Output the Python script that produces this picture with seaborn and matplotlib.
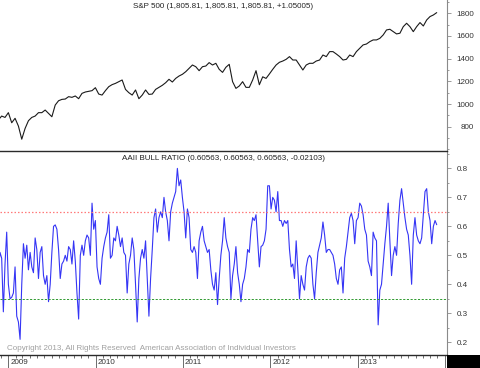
import pandas as pd
import matplotlib
matplotlib.use('Agg')
import matplotlib.pyplot as plt
import matplotlib.dates as mdates
import matplotlib.transforms as mtransforms
from matplotlib.ticker import MultipleLocator, FixedLocator, FormatStrFormatter
from matplotlib.patches import Rectangle
import seaborn as sns

# weekly AAII bull ratio (last reading 2013-11-28)
last_week = '2013-11-28'
bull_ratio = [
    0.385, 0.45, 0.51, 0.49, 0.305, 0.47, 0.58, 0.40, 0.35, 0.355,
    0.37, 0.46, 0.29, 0.27, 0.21, 0.40, 0.54, 0.49, 0.535, 0.45,
    0.51, 0.46, 0.44, 0.56, 0.52, 0.42, 0.51, 0.53, 0.43, 0.40,
    0.43, 0.34, 0.40, 0.51, 0.60, 0.605, 0.59, 0.52, 0.42, 0.47,
    0.48, 0.50, 0.48, 0.53, 0.52, 0.47, 0.55, 0.48, 0.37, 0.28,
    0.50, 0.535, 0.50,
    0.55, 0.57, 0.56, 0.50, 0.68, 0.59, 0.62, 0.46, 0.42, 0.40,
    0.49, 0.53, 0.56, 0.58, 0.64, 0.49, 0.50, 0.56, 0.55, 0.60,
    0.57, 0.53, 0.56, 0.51, 0.50, 0.37, 0.47, 0.50, 0.56, 0.52,
    0.40, 0.27, 0.42, 0.49, 0.52, 0.49, 0.55, 0.42, 0.29, 0.42,
    0.52, 0.63, 0.66, 0.58, 0.63, 0.65, 0.63, 0.70, 0.65, 0.62,
    0.55, 0.65, 0.68,
    0.70, 0.72, 0.80, 0.74, 0.76, 0.70, 0.65, 0.56, 0.66, 0.63,
    0.52, 0.51, 0.53, 0.51, 0.42, 0.55, 0.58, 0.60, 0.55, 0.53,
    0.51, 0.52, 0.45, 0.40, 0.38, 0.44, 0.33, 0.42, 0.50, 0.55,
    0.63, 0.56, 0.53, 0.51, 0.35, 0.43, 0.47, 0.53, 0.44, 0.40,
    0.34, 0.40, 0.42, 0.46, 0.52, 0.51, 0.59, 0.63, 0.62, 0.64,
    0.55, 0.46, 0.53,
    0.535, 0.55, 0.59, 0.74, 0.74, 0.66, 0.70, 0.69, 0.65, 0.72,
    0.62, 0.62, 0.60, 0.62, 0.61, 0.62, 0.52, 0.46, 0.47, 0.42,
    0.55, 0.45, 0.35, 0.43, 0.40, 0.38, 0.46, 0.49, 0.50, 0.49,
    0.40, 0.35, 0.44, 0.51, 0.535, 0.56, 0.615, 0.57, 0.51, 0.52,
    0.52, 0.51, 0.50, 0.47, 0.42, 0.40, 0.45, 0.46, 0.37, 0.49,
    0.53, 0.58, 0.63,
    0.645, 0.62, 0.54, 0.62, 0.63, 0.68, 0.67, 0.64, 0.59, 0.57,
    0.48, 0.46, 0.43, 0.58, 0.56, 0.55, 0.26, 0.38, 0.40, 0.47,
    0.54, 0.60, 0.68, 0.55, 0.43, 0.50, 0.53, 0.50, 0.61, 0.69,
    0.73, 0.68, 0.63, 0.59, 0.57, 0.50, 0.40, 0.57, 0.63, 0.57,
    0.55, 0.54, 0.56, 0.64, 0.72, 0.73, 0.65, 0.62, 0.54, 0.60,
    0.62, 0.60563,
]

# S&P 500, every second week, same end date
spx_close = [
    860, 894, 882, 924, 835, 874, 806, 690, 785, 853,
    882, 894, 924, 924, 947, 918, 888, 991, 1029, 1041,
    1044, 1065, 1059, 1071, 1047, 1094, 1106, 1112, 1118, 1144,
    1088, 1079, 1118, 1153, 1171, 1182, 1197, 1212, 1129, 1100,
    1079, 1124, 1047, 1079, 1124, 1085, 1088, 1129, 1147, 1165,
    1188, 1218, 1194, 1226, 1247, 1262, 1285, 1315, 1344, 1329,
    1294, 1329, 1335, 1365, 1344, 1359, 1306, 1279, 1324, 1350,
    1197, 1138, 1159, 1197, 1147, 1147, 1212, 1294, 1170, 1240,
    1226, 1265, 1306, 1344, 1368, 1379, 1394, 1418, 1388, 1388,
    1344, 1300, 1344, 1359, 1359, 1379, 1388, 1432, 1418, 1462,
    1462, 1441, 1418, 1388, 1394, 1432, 1418, 1462, 1491, 1521,
    1529, 1550, 1565, 1565, 1579, 1609, 1653, 1659, 1638, 1618,
    1624, 1682, 1712, 1682, 1638, 1682, 1718, 1688, 1741, 1771,
    1785, 1805.81,
]

spx_title = 'S&P 500 (1,805.81, 1,805.81, 1,805.81, +1.05005)'
bull_title = 'AAII BULL RATIO (0.60563, 0.60563, 0.60563, -0.02103)'
upper_level = 0.65
lower_level = 0.35
spx_ticks = [800, 1000, 1200, 1400, 1600, 1800]
year_labels = ['2009', '2010', '2011', '2012', '2013']
copyright_text = 'Copyright 2013, All Rights Reserved  American Association of Individual Investors'

sns.set_theme(style='white')
plt.rcParams['font.family'] = ['Liberation Sans', 'DejaVu Sans']
plt.rcParams['font.size'] = 5.8

weeks = pd.date_range(end=last_week, periods=len(bull_ratio), freq='7D')
bull_df = pd.DataFrame({'date': weeks, 'ratio': bull_ratio})
spx_df = pd.DataFrame({'date': weeks[len(weeks) - 2 * len(spx_close) + 1::2],
                       'close': spx_close})

W, H = 480, 368
fig = plt.figure(figsize=(W / 100, H / 100), dpi=100)
ax_bot = fig.add_axes([0, 13 / H, 447 / W, 204 / H])
ax_top = fig.add_axes([0, (H - 151) / H, 447 / W, 151 / H], sharex=ax_bot)

sns.lineplot(data=spx_df, x='date', y='close', ax=ax_top, color='#1a1a1a', lw=0.8)
sns.lineplot(data=bull_df, x='date', y='ratio', ax=ax_bot, color='#3535f5', lw=0.8)

ax_bot.axhline(upper_level, color='#ff7a7a', lw=0.9, ls=(0, (1.2, 1.6)))
ax_bot.axhline(lower_level, color='#2f9a2f', lw=0.7, ls=(0, (2.2, 1.6)))

text_col = '#333333'
for ax in (ax_top, ax_bot):
    ax.set_xlabel('')
    ax.set_ylabel('')
    ax.patch.set_alpha(0)
    ax.spines['left'].set_visible(False)
    ax.spines['top'].set_visible(False)
    ax.spines['right'].set_color('#8a8a8a')
    ax.spines['right'].set_linewidth(0.8)
    ax.spines['bottom'].set_color('#2a2a2a')
    ax.spines['bottom'].set_linewidth(1.0)
    ax.yaxis.tick_right()
    ax.tick_params(axis='y', which='major', direction='out', length=3,
                   width=0.6, color='#8a8a8a', labelcolor=text_col, labelsize=5.8)
    ax.tick_params(axis='y', which='minor', direction='out', length=1.6,
                   width=0.6, color='#8a8a8a')

# top panel
ax_top.set_ylim(586, 1917)
ax_top.yaxis.set_major_locator(FixedLocator(spx_ticks))
ax_top.yaxis.set_minor_locator(MultipleLocator(100))
ax_top.tick_params(axis='y', which='major', pad=16.4)
ax_top.tick_params(axis='x', which='both', length=0, labelbottom=False)
for lab in ax_top.get_yticklabels():
    lab.set_horizontalalignment('right')
ax_top.text(0.5, 1 - 7 / 151, spx_title, transform=ax_top.transAxes,
            ha='center', va='center', color='#222222', fontsize=5.8)

# bottom panel
ax_bot.set_ylim(0.156, 0.86)
ax_bot.yaxis.set_major_locator(MultipleLocator(0.1))
ax_bot.yaxis.set_minor_locator(MultipleLocator(0.05))
ax_bot.yaxis.set_major_formatter(FormatStrFormatter('%.1f'))
ax_bot.tick_params(axis='y', which='major', pad=12.1)
for lab in ax_bot.get_yticklabels():
    lab.set_horizontalalignment('right')
ax_bot.text(0.5, 1 - 8 / 204, bull_title, transform=ax_bot.transAxes,
            ha='center', va='center', color='#222222', fontsize=5.8)
ax_bot.text(7 / 447, 7 / 204, copyright_text, transform=ax_bot.transAxes,
            ha='left', va='center', color='#a0a0a0', fontsize=5.8)

ax_bot.set_xlim(pd.Timestamp('2008-11-27'), pd.Timestamp('2014-01-10'))
ax_bot.xaxis.set_major_locator(mdates.YearLocator())
ax_bot.xaxis.set_minor_locator(mdates.MonthLocator())
ax_bot.tick_params(axis='x', which='major', direction='out', length=9.5,
                   width=0.6, color='#555555', labelbottom=False, bottom=True)
ax_bot.tick_params(axis='x', which='minor', direction='out', length=2.2,
                   width=0.6, color='#555555', bottom=True)

lab_tf = mtransforms.offset_copy(ax_bot.get_xaxis_transform(), fig=fig,
                                 x=2, y=-8, units='dots')
for yl in year_labels:
    ax_bot.text(pd.Timestamp(yl + '-01-01'), 0, yl, transform=lab_tf,
                ha='left', va='center', color=text_col, fontsize=5.8)

fig.patches.append(Rectangle((447 / W, 0), 33 / W, 13 / H, transform=fig.transFigure,
                             facecolor='black', edgecolor='none'))

fig.savefig('out.png', dpi=100, facecolor='white')
